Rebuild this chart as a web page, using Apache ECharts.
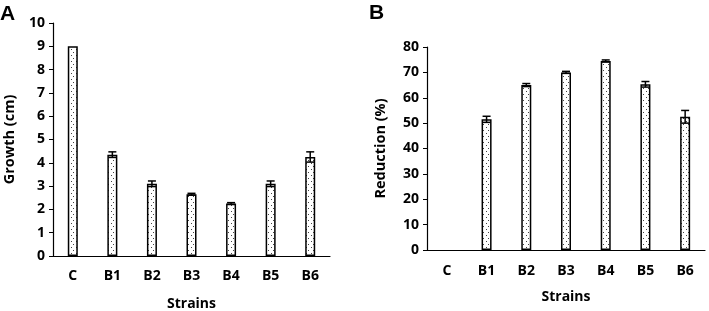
<!DOCTYPE html>
<html><head><meta charset="utf-8">
<script src="https://cdn.jsdelivr.net/npm/echarts@6/dist/echarts.min.js"></script>
<style>html,body{margin:0;padding:0;background:#fff}#c{width:709px;height:311px}</style>
</head><body><div id="c"></div>
<script>
var categories = ['C','B1','B2','B3','B4','B5','B6'];
var growth = [9.0, 4.35, 3.1, 2.65, 2.25, 3.1, 4.25];
var growthErr = [0, 0.12, 0.12, 0.04, 0.04, 0.12, 0.22];
var reduction = [0, 51.5, 65.0, 70.0, 74.5, 65.3, 52.5];
var reductionErr = [0, 1.2, 0.6, 0.4, 0.4, 1.1, 2.5];
var growthTicks = [0,1,2,3,4,5,6,7,8,9,10];
var reductionTicks = [0,10,20,30,40,50,60,70,80];

var cv = document.createElement('canvas');
cv.width = 5; cv.height = 6;
var cx = cv.getContext('2d');
cx.fillStyle = '#fff'; cx.fillRect(0,0,5,6);
cx.fillStyle = '#444';
cx.fillRect(1,1,1,1);
cx.fillRect(3,4,1,1);

var font = '"Open Sans", Lato, sans-serif';
function errSeries(idx, vals, errs){
  return {
    type:'custom', xAxisIndex: idx, yAxisIndex: idx, z: 10,
    data: vals.map(function(v,i){return [i, v - errs[i], v + errs[i], errs[i]];}),
    renderItem: function(params, api){
      if (api.value(3) <= 0) return null;
      var lo = api.coord([api.value(0), api.value(1)]);
      var hi = api.coord([api.value(0), api.value(2)]);
      var w = 4;
      var st = {stroke:'#000', lineWidth:1.5};
      return {type:'group', children:[
        {type:'line', shape:{x1:lo[0],y1:lo[1],x2:hi[0],y2:hi[1]}, style:st},
        {type:'line', shape:{x1:hi[0]-w,y1:hi[1],x2:hi[0]+w,y2:hi[1]}, style:st},
        {type:'line', shape:{x1:lo[0]-w,y1:lo[1],x2:lo[0]+w,y2:lo[1]}, style:st}
      ]};
    }
  };
}
function xAx(idx, gap, margin){
  return {type:'category', gridIndex: idx, data: categories,
    name:'Strains', nameLocation:'middle', nameGap: gap,
    nameTextStyle:{fontFamily:font, fontWeight:'bold', fontSize:14, color:'#000'},
    axisLine:{lineStyle:{color:'#000', width:1.2}}, axisTick:{show:false},
    axisLabel:{fontFamily:font, fontWeight:'bold', fontSize:14, color:'#000', margin:margin}};
}
function yAx(idx, max, interval, name, gap){
  return {type:'value', gridIndex: idx, min:0, max:max, interval:interval,
    name:name, nameLocation:'middle', nameGap:gap, nameRotate:90,
    nameTextStyle:{fontFamily:font, fontWeight:'bold', fontSize:14.5, color:'#000'},
    splitLine:{show:false},
    axisLine:{show:true, lineStyle:{color:'#000', width:1.2}},
    axisTick:{show:true, inside:false, length:4, lineStyle:{color:'#000'}},
    axisLabel:{fontFamily:font, fontWeight:'bold', fontSize:14, color:'#000', margin:8}};
}
var chart = echarts.init(document.getElementById('c'), null, {renderer:'canvas'});
chart.setOption({
  animation:false,
  graphic:[
    {type:'text', left:0, top:4, style:{text:'A', font:'bold 21px Arial, "Liberation Sans", sans-serif', fill:'#000'}},
    {type:'text', left:369, top:3, style:{text:'B', font:'bold 21px Arial, "Liberation Sans", sans-serif', fill:'#000'}}
  ],
  grid:[
    {left:53, top:23, width:277, height:233, outerBoundsMode:'none', containLabel:false},
    {left:427, top:47, width:278, height:203, outerBoundsMode:'none', containLabel:false}
  ],
  xAxis:[xAx(0, 41, 13), xAx(1, 40, 14)],
  yAxis:[yAx(0, growthTicks[growthTicks.length-1], growthTicks[1]-growthTicks[0], 'Growth (cm)', 36),
         yAx(1, reductionTicks[reductionTicks.length-1], reductionTicks[1]-reductionTicks[0], 'Reduction (%)', 39)],
  series:[
    {type:'bar', xAxisIndex:0, yAxisIndex:0, data:growth, barWidth:10,
     itemStyle:{color:{image:cv, repeat:'repeat'}, borderColor:'#000', borderWidth:1.5}},
    {type:'bar', xAxisIndex:1, yAxisIndex:1, data:reduction.map(function(v){return v === 0 ? '-' : v;}), barWidth:10,
     itemStyle:{color:{image:cv, repeat:'repeat'}, borderColor:'#000', borderWidth:1.5}},
    errSeries(0, growth, growthErr),
    errSeries(1, reduction, reductionErr)
  ]
});
</script></body></html>
